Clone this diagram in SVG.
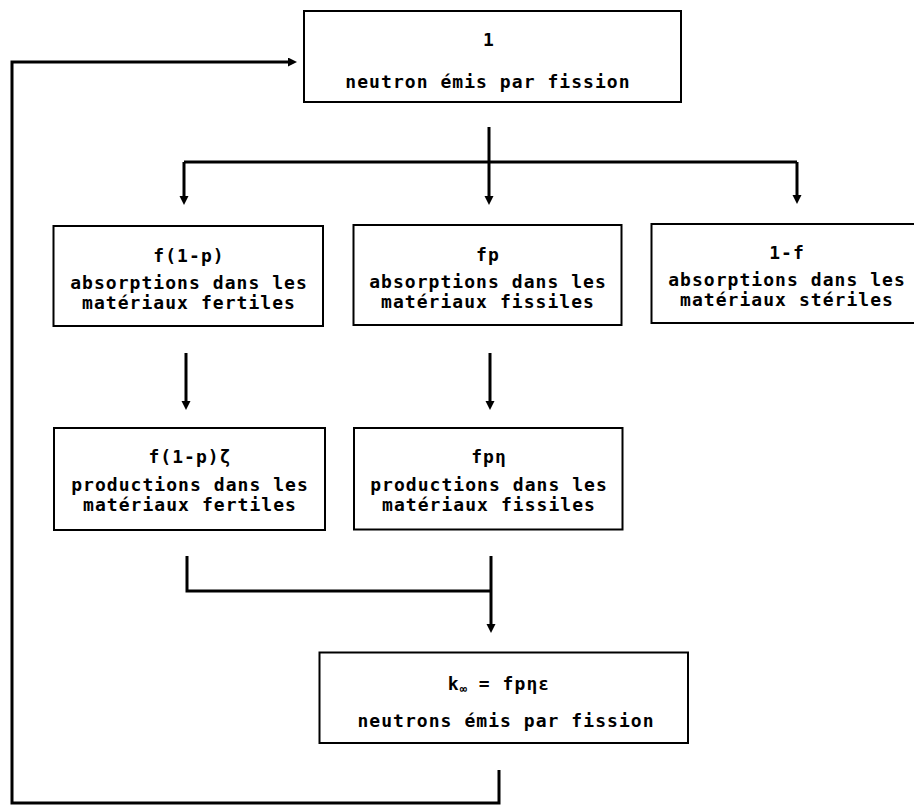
<svg xmlns="http://www.w3.org/2000/svg" width="914" height="806" viewBox="0 0 914 806">
<style>
  .box rect { fill: #ffffff; stroke: #000000; stroke-width: 2; }
  .box text { font-family: "DejaVu Sans Mono", "Liberation Mono", monospace; font-size: 18px; font-weight: bold; letter-spacing: 1.05px; text-anchor: middle; fill: #000000; }
  #connectors path { fill: none; stroke: #000000; stroke-width: 3; }
  .sub { font-size: 12px; letter-spacing: 0; }
</style>
<defs>
  <marker id="arrow" markerUnits="userSpaceOnUse" markerWidth="10" markerHeight="10" refX="3" refY="4.5" orient="auto">
    <path d="M0,0 L9,4.5 L0,9 z" fill="#000000"/>
  </marker>
</defs>
<rect width="914" height="806" fill="#ffffff"/>

<g id="connectors">
  <path d="M499,770 V803 H12 V62 H291" marker-end="url(#arrow)"/>
  <path d="M489,127 V199" marker-end="url(#arrow)"/>
  <path d="M184,162 H797"/>
  <path d="M184,162 V199" marker-end="url(#arrow)"/>
  <path d="M797,162 V198" marker-end="url(#arrow)"/>
  <path d="M186,353 V404" marker-end="url(#arrow)"/>
  <path d="M490,353 V404" marker-end="url(#arrow)"/>
  <path d="M187,556 V591 H491"/>
  <path d="M491,556 V627" marker-end="url(#arrow)"/>
</g>

<g id="node-top" class="box">
  <rect x="304" y="11" width="377" height="91"/>
  <text x="489" y="46">1</text>
  <text x="488" y="88">neutron émis par fission</text>
</g>

<g id="node-abs-fertiles" class="box">
  <rect x="53.5" y="226" width="269.5" height="100"/>
  <text x="189" y="262">f(1-p)</text>
  <text x="189" y="289">absorptions dans les</text>
  <text x="189" y="309">matériaux fertiles</text>
</g>

<g id="node-abs-fissiles" class="box">
  <rect x="353.5" y="225" width="268" height="100"/>
  <text x="488" y="261">fp</text>
  <text x="488" y="288">absorptions dans les</text>
  <text x="488" y="308">matériaux fissiles</text>
</g>

<g id="node-abs-steriles" class="box">
  <rect x="651.5" y="224" width="272" height="99"/>
  <text x="787" y="259">1-f</text>
  <text x="787" y="286">absorptions dans les</text>
  <text x="787" y="306">matériaux stériles</text>
</g>

<g id="node-prod-fertiles" class="box">
  <rect x="54" y="428" width="271" height="102"/>
  <text x="190" y="463">f(1-p)ζ</text>
  <text x="190" y="491">productions dans les</text>
  <text x="190" y="511">matériaux fertiles</text>
</g>

<g id="node-prod-fissiles" class="box">
  <rect x="354" y="428" width="268.5" height="101.5"/>
  <text x="489" y="463">fpη</text>
  <text x="489" y="491">productions dans les</text>
  <text x="489" y="511">matériaux fissiles</text>
</g>

<g id="node-kinf" class="box">
  <rect x="319.5" y="652.5" width="368.5" height="90.5"/>
  <text x="499" y="690">k<tspan class="sub" dy="3">∞</tspan><tspan dy="-3"> = fpηε</tspan></text>
  <text x="506" y="727">neutrons émis par fission</text>
</g>
</svg>
